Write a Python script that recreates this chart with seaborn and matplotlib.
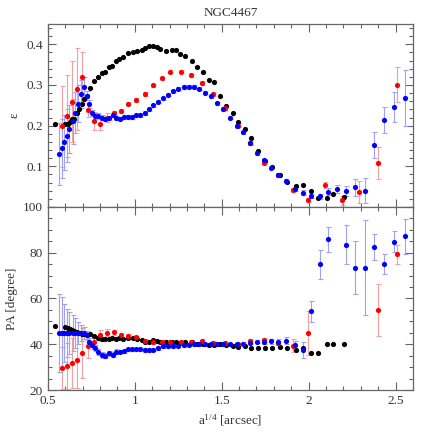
import numpy as np
import matplotlib
matplotlib.use('Agg')
import matplotlib.pyplot as plt
import seaborn as sns
from matplotlib.ticker import MultipleLocator, FuncFormatter

nan = np.nan

# black series (no error bars)
black_x = [0.540, 0.600, 0.614, 0.627, 0.640, 0.652, 0.665, 0.680, 0.695, 0.710,
           0.724, 0.741, 0.764, 0.790, 0.812, 0.827, 0.849, 0.866, 0.892, 0.911,
           0.932, 0.962, 0.988, 1.011, 1.039, 1.058, 1.079, 1.106, 1.125, 1.142,
           1.181, 1.214, 1.237, 1.260, 1.289, 1.327, 1.358, 1.393, 1.425, 1.458,
           1.492, 1.525, 1.563, 1.593, 1.635, 1.670, 1.706, 1.748, 1.788, 1.834,
           1.878, 1.926, 1.970, 2.012, 2.056, 2.104, 2.142, 2.203]
black_eps = [0.203, 0.203, 0.203, 0.210, 0.217, 0.217, 0.231, 0.242, 0.254, 0.265,
             0.274, 0.292, 0.311, 0.319, 0.329, 0.332, 0.343, 0.347, 0.360, 0.364,
             0.369, 0.378, 0.380, 0.384, 0.387, 0.390, 0.395, 0.397, 0.394, 0.389,
             0.384, 0.387, 0.385, 0.377, 0.372, 0.360, 0.345, 0.332, 0.312, 0.308,
             0.273, 0.249, 0.230, 0.210, 0.191, 0.170, 0.138, 0.114, 0.098, 0.078,
             0.061, 0.051, 0.054, 0.039, 0.021, 0.021, 0.031, 0.025]
black_pa = [48.1, 47.5, 47.0, 46.5, 46.1, 45.7, 45.2, 44.9, 44.6, 44.3,
            44.2, 44.3, 43.8, 42.9, 42.3, 42.3, 42.3, 42.6, 42.5, 42.6,
            42.3, 42.6, 42.9, 42.3, 42.0, 41.2, 41.2, 42.0, 41.4, 41.2,
            40.8, 41.0, 41.0, 40.6, 41.0, 41.2, 40.3, 40.0, 39.8, 39.8,
            40.0, 39.6, 39.3, 38.8, 39.4, 38.5, 38.3, 38.3, 38.5, 38.8,
            38.3, 37.4, 38.2, 36.0, 36.0, 39.9, 39.9, 39.9]

# red series
red_x = [0.580, 0.607, 0.636, 0.665, 0.697, 0.731, 0.764, 0.802, 0.840, 0.878,
         0.919, 0.963, 1.009, 1.056, 1.104, 1.154, 1.205, 1.267, 1.326, 1.387,
         1.452, 1.521, 1.593, 1.662, 1.744, 1.825, 1.911, 1.998, 2.092, 2.190,
         2.291, 2.398, 2.509]
red_eps = [0.198, 0.224, 0.259, 0.290, 0.319, 0.239, 0.212, 0.203, 0.220, 0.231,
           0.237, 0.254, 0.263, 0.278, 0.299, 0.316, 0.333, 0.333, 0.324, 0.305,
           0.278, 0.243, 0.200, 0.158, 0.109, 0.078, 0.041, 0.017, 0.054, 0.016,
           0.036, 0.109, 0.300]
red_eps_err = [0.100, 0.100, 0.100, 0.100, 0.063, 0.017, 0.022, 0.014, 0.010, 0.006,
               0.005, 0.004, 0.004, 0.004, 0.004, 0.004, 0.004, 0.004, 0.004, 0.004,
               0.004, 0.004, 0.004, 0.004, 0.004, 0.004, 0.004, 0.004, 0.007, 0.010,
               0.027, 0.039, 0.043]
red_pa = [29.6, 30.6, 31.7, 33.0, 36.1, 39.1, 41.0, 43.9, 45.1, 45.2,
          44.0, 43.6, 43.0, 41.5, 41.0, 41.0, 41.0, 41.0, 41.2, 41.4,
          40.6, 40.5, 39.9, 41.3, 42.0, 40.6, 39.3, 45.1, nan, nan,
          nan, 54.8, 79.3]
red_pa_err = [9.0, 10.0, 11.0, 12.0, 11.0, 5.0, 3.0, 2.5, 1.5, 1.2,
              1.0, 1.0, 0.8, 0.8, 0.8, 0.8, 0.8, 0.8, 0.8, 0.8,
              0.8, 0.8, 0.8, 0.8, 0.8, 1.0, 2.9, 9.6, nan, nan,
              nan, 11.4, 4.1]

# blue series
blue_x = [0.565, 0.580, 0.594, 0.611, 0.622, 0.642, 0.657, 0.670, 0.688, 0.705,
          0.722, 0.739, 0.754, 0.770, 0.789, 0.810, 0.827, 0.850, 0.873, 0.894,
          0.913, 0.936, 0.961, 0.986, 1.009, 1.032, 1.056, 1.079, 1.106, 1.136,
          1.163, 1.192, 1.220, 1.249, 1.280, 1.310, 1.341, 1.372, 1.406, 1.440,
          1.475, 1.510, 1.545, 1.588, 1.624, 1.662, 1.702, 1.744, 1.784, 1.824,
          1.872, 1.920, 1.968, 2.014, 2.064, 2.113, 2.163, 2.214, 2.268, 2.323,
          2.379, 2.436, 2.494, 2.555]
blue_eps = [0.130, 0.144, 0.159, 0.175, 0.192, 0.211, 0.232, 0.254, 0.278, 0.294,
            0.274, 0.254, 0.231, 0.224, 0.224, 0.220, 0.217, 0.219, 0.226, 0.219,
            0.217, 0.222, 0.221, 0.221, 0.225, 0.226, 0.231, 0.240, 0.250, 0.259,
            0.267, 0.276, 0.284, 0.291, 0.295, 0.296, 0.295, 0.291, 0.281, 0.272,
            0.255, 0.241, 0.220, 0.200, 0.184, 0.157, 0.133, 0.115, 0.097, 0.079,
            0.063, 0.045, 0.035, 0.027, 0.026, 0.038, 0.044, 0.039, 0.049, 0.040,
            0.152, 0.214, 0.245, 0.268]
blue_eps_err = [0.077, 0.072, 0.068, 0.065, 0.060, 0.055, 0.050, 0.045, 0.035, 0.025,
                0.012, 0.010, 0.008, 0.007, 0.006, 0.006, 0.005, 0.005, 0.005, 0.005,
                0.004, 0.004, 0.004, 0.004, 0.004, 0.004, 0.004, 0.004, 0.004, 0.004,
                0.004, 0.004, 0.004, 0.004, 0.004, 0.004, 0.004, 0.004, 0.004, 0.004,
                0.004, 0.004, 0.004, 0.004, 0.004, 0.004, 0.004, 0.004, 0.004, 0.004,
                0.005, 0.005, 0.006, 0.006, 0.007, 0.009, 0.010, 0.012, 0.021, 0.031,
                0.032, 0.032, 0.037, 0.068]
blue_pa = [44.9, 44.9, 44.9, 44.9, 44.9, 44.9, 44.9, 44.9, 44.9, 44.9,
           43.9, 41.0, 39.5, 38.4, 36.5, 35.2, 35.0, 36.0, 35.4, 36.8,
           36.8, 36.9, 37.8, 37.8, 37.8, 37.8, 37.5, 37.5, 37.7, 38.4,
           39.1, 39.1, 39.2, 39.4, 39.6, 39.8, 39.9, 40.0, 40.0, 40.0,
           40.0, 40.0, 40.0, 39.9, 40.2, 40.7, 41.2, 41.2, 41.3, 41.0,
           41.6, 39.5, 37.5, 54.5, 74.9, 85.8, nan, 83.5, 73.5, 73.5,
           82.6, 75.1, 84.8, 87.2]
blue_pa_err = [17.1, 15.7, 12.8, 10.6, 9.1, 7.7, 6.7, 4.8, 3.4, 2.5,
               2.0, 1.6, 1.5, 1.4, 1.3, 1.2, 1.1, 1.0, 1.0, 1.0,
               0.8, 0.8, 0.7, 0.7, 0.7, 0.7, 0.7, 0.7, 0.7, 0.7,
               0.7, 0.7, 0.7, 0.7, 0.7, 0.7, 0.7, 0.7, 0.7, 0.7,
               0.7, 0.7, 0.7, 0.7, 0.7, 0.8, 0.8, 0.9, 1.0, 1.5,
               1.5, 2.0, 3.3, 4.6, 6.3, 5.3, nan, 8.5, 11.5, 20.6,
               5.7, 4.3, 4.6, 7.7]

sns.set_style('ticks')
plt.rcParams['font.family'] = ['Liberation Serif', 'DejaVu Serif']
plt.rcParams['mathtext.default'] = 'regular'
text_col = '#333333'
frame_col = '#666666'

fig, (ax1, ax2) = plt.subplots(2, 1, figsize=(4.36, 4.36), dpi=100, sharex=True)
fig.subplots_adjust(left=0.110, right=0.947, top=0.945, bottom=0.1055, hspace=0)

dot = 14
for ax, by, ry, rerr, bly, blerr in [
        (ax1, black_eps, red_eps, red_eps_err, blue_eps, blue_eps_err),
        (ax2, black_pa, red_pa, red_pa_err, blue_pa, blue_pa_err)]:
    ax.errorbar(red_x, ry, yerr=rerr, fmt='none', ecolor='#f4a0a0',
                elinewidth=0.8, capsize=1.8, capthick=0.8, zorder=1)
    ax.errorbar(blue_x, bly, yerr=blerr, fmt='none', ecolor='#a0a0f4',
                elinewidth=0.8, capsize=1.8, capthick=0.8, zorder=1)
    sns.scatterplot(x=black_x, y=by, ax=ax, color='black', s=dot,
                    linewidth=0, zorder=3)
    sns.scatterplot(x=red_x, y=ry, ax=ax, color='#ff0000', s=dot,
                    linewidth=0, zorder=3)
    sns.scatterplot(x=blue_x, y=bly, ax=ax, color='#0000ff', s=dot,
                    linewidth=0, zorder=3)

    ax.set_xlim(0.5, 2.6)
    ax.xaxis.set_major_locator(MultipleLocator(0.5))
    ax.xaxis.set_minor_locator(MultipleLocator(0.1))
    ax.tick_params(which='both', direction='in', top=True, right=True,
                   colors=frame_col, labelcolor=text_col, labelsize=9.5, width=0.8)
    ax.tick_params(which='major', length=6)
    ax.tick_params(which='minor', length=3)
    for sp in ax.spines.values():
        sp.set_color(frame_col)
        sp.set_linewidth(0.9)

ax1.set_ylim(0, 0.45)
ax1.set_yticks([0, 0.1, 0.2, 0.3, 0.4], labels=['', '0.1', '0.2', '0.3', '0.4'])
ax1.yaxis.set_minor_locator(MultipleLocator(0.02))
ax1.set_ylabel('ε', color=text_col, fontsize=9.5)
ax1.set_title('NGC4467', color=text_col, fontsize=9.5, pad=6)

ax2.set_ylim(20, 100)
ax2.yaxis.set_major_locator(MultipleLocator(20))
ax2.yaxis.set_minor_locator(MultipleLocator(5))
ax2.xaxis.set_major_formatter(FuncFormatter(lambda v, p: f'{v:g}'))
ax2.set_ylabel('PA [degree]', color=text_col, fontsize=9.5)
ax2.set_xlabel('a$^{1/4}$ [arcsec]', color=text_col, fontsize=9.5)

fig.savefig('out.png', dpi=100)
